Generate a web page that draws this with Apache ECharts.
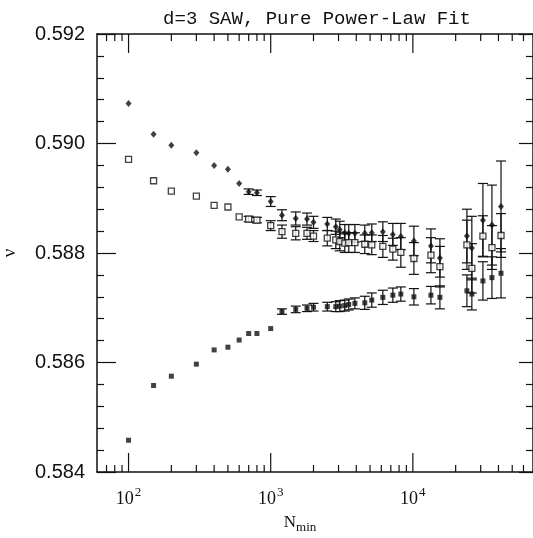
<!DOCTYPE html>
<html lang="en">
<head>
    <meta charset="UTF-8">
    <title>d=3 SAW, Pure Power-Law Fit</title>
    <script type="text/javascript" src="https://cdn.jsdelivr.net/npm/echarts@6/dist/echarts.min.js"></script>
    <style type="text/css">
        html, body { margin: 0; padding: 0; background: #fff; }
        #chart { width: 533px; height: 538px; }
    </style>
</head>
<body>
<div id="chart"></div>
<script type="text/javascript">
    // N_min values (x positions of the fits)
    const nMin = [100, 150, 200, 300, 400, 500, 600, 700, 800, 1000, 1200, 1500, 1800, 2000, 2500,
        2870, 3060, 3320, 3540, 3910, 4590, 5140, 6150, 7230, 8230, 10170, 13400, 15500,
        24000, 26000, 31100, 36000, 41700];

    // upper series (filled diamonds)
    const nuTop = [0.59073, 0.59017, 0.58997, 0.58983, 0.58960, 0.58953, 0.58927, 0.58912, 0.58910,
        0.58894, 0.58869, 0.58863, 0.58862, 0.58856, 0.58853, 0.58848, 0.58843, 0.58837, 0.58836,
        0.58836, 0.58836, 0.58837, 0.58839, 0.58834, 0.58830, 0.58822, 0.58813, 0.58791,
        0.58831, 0.58809, 0.58860, 0.58851, 0.58885];
    const errTop = [0.00002, 0.00002, 0.00002, 0.00002, 0.00003, 0.00003, 0.00004, 0.00005, 0.00005,
        0.00009, 0.0001, 0.00012, 0.00011, 0.00011, 0.00012, 0.00014, 0.00015, 0.00015, 0.00016,
        0.00016, 0.00015, 0.00016, 0.00018, 0.0002, 0.00024, 0.00027, 0.00031, 0.00035,
        0.00049, 0.00058, 0.00067, 0.00073, 0.00083];

    // middle series (open squares)
    const nuMid = [0.58971, 0.58932, 0.58913, 0.58904, 0.58887, 0.58884, 0.58866, 0.58862, 0.58860,
        0.58850, 0.58839, 0.58836, 0.58836, 0.58831, 0.58827, 0.58824, 0.58821, 0.58818, 0.58819,
        0.58819, 0.58816, 0.58815, 0.58812, 0.58807, 0.58801, 0.58790, 0.58796, 0.58775,
        0.58815, 0.58772, 0.58831, 0.58810, 0.58832];
    const errMid = [0.00002, 0.00002, 0.00002, 0.00002, 0.00003, 0.00003, 0.00004, 0.00005, 0.00005,
        0.00009, 0.00012, 0.00012, 0.00011, 0.0001, 0.00014, 0.00016, 0.00017, 0.00017, 0.00018,
        0.00018, 0.00017, 0.00018, 0.0002, 0.0002, 0.00027, 0.00029, 0.00032, 0.00037,
        0.00045, 0.00045, 0.00037, 0.0004, 0.0004];

    // lower series (filled squares)
    const nuLow = [0.58458, 0.58558, 0.58575, 0.58597, 0.58623, 0.58628, 0.58641, 0.58653, 0.58653,
        0.58662, 0.58693, 0.58697, 0.58699, 0.58701, 0.58702, 0.58702, 0.58703, 0.58704, 0.58706,
        0.58708, 0.58709, 0.58714, 0.58719, 0.58723, 0.58725, 0.58720, 0.58723, 0.58719,
        0.58731, 0.58725, 0.58749, 0.58755, 0.58763];
    const errLow = [0.00001, 0.00001, 0.00001, 0.00001, 0.00002, 0.00002, 0.00002, 0.00003, 0.00003,
        0.00004, 0.00005, 0.00006, 0.00006, 0.00007, 0.00008, 0.00009, 0.0001, 0.0001, 0.0001,
        0.0001, 0.00012, 0.00013, 0.00013, 0.00013, 0.00013, 0.00015, 0.00016, 0.00021,
        0.00029, 0.00029, 0.00035, 0.00038, 0.00045];

    // axis ticks
    const xMajorTicks = [100, 1000, 10000];
    const xMinorTicks = [70, 80, 90, 200, 300, 400, 500, 600, 700, 800, 900,
        2000, 3000, 4000, 5000, 6000, 7000, 8000, 9000, 20000, 30000, 40000, 50000, 60000];
    const yMin = 0.584, yMax = 0.592, yStep = 0.002;

    const ink = '#111';

    function pts(vals) {
        return nMin.map((n, i) => [n, vals[i]]);
    }

    function errData(vals, errs) {
        return nMin.map((n, i) => [n, vals[i] - errs[i], vals[i] + errs[i]]);
    }

    function renderErr(params, api) {
        let x = api.value(0);
        let lo = api.coord([x, api.value(1)]);
        let hi = api.coord([x, api.value(2)]);
        if (lo[1] - hi[1] < 5) return;
        let w = 5;
        let st = {stroke: ink, lineWidth: 1.2};
        return {
            type: 'group',
            children: [
                {type: 'line', shape: {x1: lo[0], y1: lo[1], x2: hi[0], y2: hi[1]}, style: st},
                {type: 'line', shape: {x1: hi[0] - w, y1: hi[1], x2: hi[0] + w, y2: hi[1]}, style: st},
                {type: 'line', shape: {x1: lo[0] - w, y1: lo[1], x2: lo[0] + w, y2: lo[1]}, style: st}
            ]
        };
    }

    function renderTick(params, api) {
        let n = api.value(0);
        let len = api.value(1);
        let b = api.coord([n, yMin]);
        let t = api.coord([n, yMax]);
        let st = {stroke: ink, lineWidth: 1.2};
        return {
            type: 'group',
            children: [
                {type: 'line', shape: {x1: b[0], y1: b[1], x2: b[0], y2: b[1] - len}, style: st},
                {type: 'line', shape: {x1: t[0], y1: t[1], x2: t[0], y2: t[1] + len}, style: st}
            ]
        };
    }

    let tickData = xMajorTicks.map(v => [v, 19]).concat(xMinorTicks.map(v => [v, 7]));

    let xBase = {
        type: 'log',
        logBase: 10,
        min: 60,
        max: 70000,
        axisLine: {lineStyle: {color: ink, width: 1.5}},
        axisTick: {show: false},
        splitLine: {show: false},
        minorTick: {show: false}
    };

    let yBase = {
        type: 'value',
        min: yMin,
        max: yMax,
        interval: yStep,
        axisLine: {show: true, lineStyle: {color: ink, width: 1.5}},
        splitLine: {show: false},
        minorTick: {show: true, splitNumber: 5, length: 7, lineStyle: {color: ink, width: 1.2}}
    };

    let chart = echarts.init(document.getElementById('chart'));
    chart.setOption({
        backgroundColor: '#fff',
        animation: false,
        title: {
            text: 'd=3 SAW, Pure Power-Law Fit',
            left: 312,
            top: 4,
            textAlign: 'center',
            textStyle: {fontFamily: 'Liberation Mono', fontSize: 19, fontWeight: 'normal', color: ink}
        },
        grid: {left: 97, right: 0, top: 34, bottom: 66, containLabel: false, outerBoundsMode: 'none'},
        xAxis: [
            Object.assign({}, xBase, {
                position: 'bottom',
                name: '{n|N}{s|min}',
                nameLocation: 'middle',
                nameGap: 34,
                nameTextStyle: {
                    padding: [0, 30, 0, 0],
                    rich: {
                        n: {fontFamily: 'Liberation Serif', fontSize: 17, color: ink, verticalAlign: 'top', lineHeight: 20},
                        s: {fontFamily: 'Liberation Serif', fontSize: 13, color: ink, verticalAlign: 'bottom', lineHeight: 20, padding: [8, 0, 0, 0]}
                    }
                },
                axisLabel: {
                    margin: 14,
                    showMinLabel: false,
                    showMaxLabel: false,
                    formatter: function (v) {
                        let e = Math.log10(v);
                        if (Math.abs(e - Math.round(e)) > 1e-6) return '';
                        return '{b|10}{s|' + Math.round(e) + '}';
                    },
                    rich: {
                        b: {fontFamily: 'Liberation Serif', fontSize: 18, color: ink, verticalAlign: 'bottom', lineHeight: 22},
                        s: {fontFamily: 'Liberation Serif', fontSize: 13, color: ink, verticalAlign: 'top', lineHeight: 22, padding: [0, 0, 8, 1]}
                    }
                }
            }),
            Object.assign({}, xBase, {
                position: 'top',
                axisLabel: {show: false}
            })
        ],
        yAxis: [
            Object.assign({}, yBase, {
                position: 'left',
                name: 'ν',
                nameLocation: 'middle',
                nameRotate: 90,
                nameGap: 77,
                nameTextStyle: {fontFamily: 'Liberation Serif', fontSize: 19, color: ink},
                axisTick: {show: true, inside: true, length: 19, lineStyle: {color: ink, width: 1.2}},
                axisLabel: {
                    margin: 12,
                    fontFamily: 'Liberation Sans',
                    fontSize: 20,
                    color: ink,
                    formatter: v => v.toFixed(3)
                }
            }),
            Object.assign({}, yBase, {
                position: 'right',
                axisTick: {show: true, inside: true, length: 14, lineStyle: {color: ink, width: 1.2}},
                axisLabel: {show: false}
            })
        ],
        series: [
            {
                name: 'xticks',
                type: 'custom',
                xAxisIndex: 0,
                yAxisIndex: 0,
                renderItem: renderTick,
                data: tickData.map(d => [d[0], d[1]]),
                encode: {x: 0},
                silent: true,
                z: 1
            },
            {type: 'custom', renderItem: renderErr, data: errData(nuTop, errTop), encode: {x: 0, y: [1, 2]}, z: 2},
            {type: 'custom', renderItem: renderErr, data: errData(nuMid, errMid), encode: {x: 0, y: [1, 2]}, z: 2},
            {type: 'custom', renderItem: renderErr, data: errData(nuLow, errLow), encode: {x: 0, y: [1, 2]}, z: 2},
            {
                type: 'scatter', data: pts(nuTop), symbol: 'diamond', symbolSize: [6, 7],
                itemStyle: {color: ink}, z: 3
            },
            {
                type: 'scatter', data: pts(nuMid), symbol: 'rect', symbolSize: 6,
                itemStyle: {color: '#fff', borderColor: ink, borderWidth: 1.3}, z: 3
            },
            {
                type: 'scatter', data: pts(nuLow), symbol: 'rect', symbolSize: 5,
                itemStyle: {color: ink}, z: 3
            }
        ]
    });
</script>
</body>
</html>
